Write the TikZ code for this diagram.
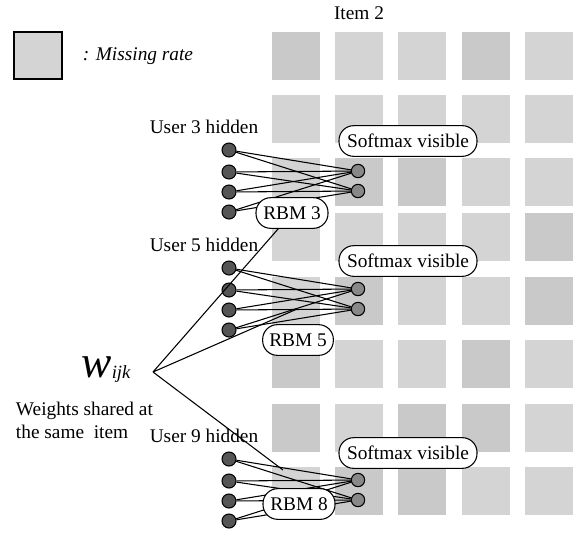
\documentclass[tikz,border=0pt]{standalone}
\usepackage{fontspec}
\setmainfont{Liberation Serif}
\definecolor{cellA}{RGB}{212,212,212}
\definecolor{cellB}{RGB}{201,201,201}
\definecolor{hidfill}{RGB}{85,85,85}
\definecolor{visfill}{RGB}{136,136,136}
\def\shadelist{{1,0,0,1,0, 0,0,0,0,0, 0,1,1,0,0, 0,0,0,0,1, 0,1,0,0,1, 1,0,0,1,0, 1,0,1,1,0, 0,1,1,0,0}}
\begin{document}
\begin{tikzpicture}[x=0.75pt, y=-0.75pt, line width=0.8pt, font=\fontsize{14.5}{17.3}\selectfont,
    hid/.style={circle, draw, fill=hidfill, inner sep=0pt, minimum size=10.5pt},
    vis/.style={circle, draw, fill=visfill, inner sep=0pt, minimum size=10pt},
    pill/.style={draw, fill=white, rounded corners=11pt, inner sep=0pt, minimum height=23pt}]
      \useasboundingbox (0, 0) rectangle (580, 536);
      \foreach \top [count=\r from 0] in {32, 95, 158, 213, 277, 340, 404, 467}
        \foreach \lft [count=\c from 0] in {272, 335, 398, 462, 525} {
          \pgfmathtruncatemacro\dk{\shadelist[\r*5+\c]}
          \ifnum\dk=1 \fill [cellB] (\lft, \top) rectangle ++(48, 48);
          \else \fill [cellA] (\lft, \top) rectangle ++(48, 48); \fi
        }
      \draw [fill=cellA] (14, 32) rectangle (62, 79) node (legend) [pos=.5] {};
      \draw (78, 56) node (legtxt) [anchor=west] {\itshape : Missing rate}
            (359, 13) node (item) {Item 2};
      \foreach \blk/\base/\usr in {a/150/3, b/268/5, c/459/9} {
        \node (u\blk) at (204, \base-23) {User \usr\ hidden};
        \foreach \i/\dy in {1/0, 2/22, 3/42, 4/62}
          \node [hid] (h\blk\i) at (229, \base+\dy) {};
        \foreach \j/\dy in {1/21, 2/41}
          \node [vis] (v\blk\j) at (358, \base+\dy) {};
        \foreach \i in {1,...,4}
          \foreach \j in {1, 2}
            \draw (h\blk\i) -- (v\blk\j);
      }
      \node [pill, minimum width=103.5pt] (sma) at (408, 141) {Softmax visible};
      \node [pill, minimum width=103.5pt] (smb) at (408, 261) {Softmax visible};
      \node [pill, minimum width=103.5pt] (smc) at (408, 453) {Softmax visible};
      \node [pill, minimum width=54pt] (rbma) at (292, 213) {RBM 3};
      \node [pill, minimum width=53pt] (rbmb) at (298, 340) {RBM 5};
      \node [pill, minimum width=54pt] (rbmc) at (299, 504) {RBM 8};
      \node (wlab) [anchor=base] at (106, 377)
            {{\fontsize{34}{34}\selectfont\itshape w}\raisebox{-1pt}{\fontsize{14}{14}\selectfont\itshape ijk}};
      \node (wtxt) [anchor=west, align=left] at (11, 420) {Weights shared at\\the same~ item};
      \coordinate (wpt) at (153, 372);
      \coordinate (shrb) at (297, 309);
      \coordinate (shrc) at (283, 470);
      \draw (wpt) -- (rbma)
            (wpt) -- (shrb)
            (wpt) -- (shrc);
\end{tikzpicture}
\end{document}
